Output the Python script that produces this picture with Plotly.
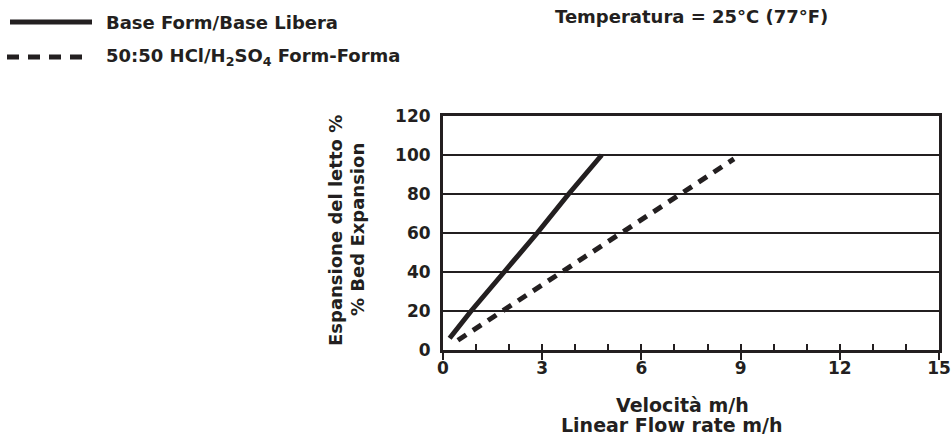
import plotly.graph_objects as go

# Bed expansion vs. linear flow rate at 25 °C
base_flow = [0.2, 0.85, 1.85, 2.85, 3.8, 4.8]
base_expansion = [6, 20, 40, 60, 80, 100]

acid_flow = [0.45, 1.8, 3.6, 5.4, 7.15, 8.8]
acid_expansion = [5, 20, 40, 60, 80, 98]

x_ticks = [0, 3, 6, 9, 12, 15]
y_ticks = [0, 20, 40, 60, 80, 100, 120]

series_names = ["Base Form/Base Libera", "50:50 HCl/H<sub>2</sub>SO<sub>4</sub> Form-Forma"]
x_title = ["Velocità m/h", "Linear Flow rate m/h"]
y_title = ["Espansione del letto %", "% Bed Expansion"]

FONT = "DejaVu Sans"
INK = "#231f20"

# plot area in pixels: x 443..939, y 116..350
PW, PH, PL, PT = 496, 234, 443, 116


def px(x):
    return (x - PL) / PW


def py(y):
    return 1 + (PT - y) / PH


fig = go.Figure()
fig.add_trace(go.Scatter(x=base_flow, y=base_expansion, mode="lines",
                         line=dict(color=INK, width=5), showlegend=False))
fig.add_trace(go.Scatter(x=acid_flow, y=acid_expansion, mode="lines", xaxis="x2",
                         line=dict(color=INK, width=5, dash="10px,8px"), showlegend=False))

fig.update_layout(
    width=951, height=441,
    margin=dict(l=PL, r=951 - PL - PW, t=PT, b=441 - PT - PH),
    paper_bgcolor="white", plot_bgcolor="white",
    font=dict(family=FONT, color=INK, size=18, weight="bold"),
    xaxis=dict(range=[0, 15], tickvals=x_ticks, ticks="outside", ticklen=7, tickwidth=2,
               tickcolor=INK, showline=True, linewidth=3, linecolor=INK, mirror=True,
               showgrid=False, zeroline=False, tickfont=dict(size=17), automargin=False,
               ticklabelstandoff=-6),
    xaxis2=dict(range=[0, 15], overlaying="x", dtick=1, ticks="inside", ticklen=6,
                tickwidth=2, tickcolor=INK, showticklabels=False, showgrid=False,
                zeroline=False, showline=False, automargin=False),
    yaxis=dict(range=[0, 120], tickvals=y_ticks, ticks="", showline=True, linewidth=3,
               linecolor=INK, mirror=True, showgrid=True, gridcolor=INK, gridwidth=2,
               zeroline=False, tickfont=dict(size=17), ticklabelstandoff=6, automargin=False),
)

# Axis titles, one line each
for text, cx, cy, size in zip(x_title, [682, 672], [405, 425], [19, 19]):
    fig.add_annotation(xref="paper", yref="paper", x=px(cx), y=py(cy), text=text,
                       showarrow=False, xanchor="center", yanchor="middle",
                       font=dict(size=size))
for text, cx, cy in zip(y_title, [335, 357], [231, 230]):
    fig.add_annotation(xref="paper", yref="paper", x=px(cx), y=py(cy), text=text,
                       showarrow=False, xanchor="center", yanchor="middle", textangle=-90,
                       font=dict(size=18))

# Legend drawn as line samples with labels
fig.add_shape(type="line", xref="paper", yref="paper", x0=px(10), x1=px(92),
              y0=py(22), y1=py(22), line=dict(color=INK, width=5))
fig.add_shape(type="line", xref="paper", yref="paper", x0=px(7), x1=px(84),
              y0=py(57), y1=py(57), line=dict(color=INK, width=5, dash="12px,9px"))
for i, name in enumerate(series_names):
    fig.add_annotation(xref="paper", yref="paper", x=px(104), y=py(22 + 35 * i),
                       text=name, showarrow=False, xanchor="left", yanchor="middle",
                       font=dict(size=18))

fig.add_annotation(xref="paper", yref="paper", x=px(553), y=py(17),
                   text="Temperatura = 25°C (77°F)", showarrow=False,
                   xanchor="left", yanchor="middle", font=dict(size=18))

fig.write_html("out.html")
